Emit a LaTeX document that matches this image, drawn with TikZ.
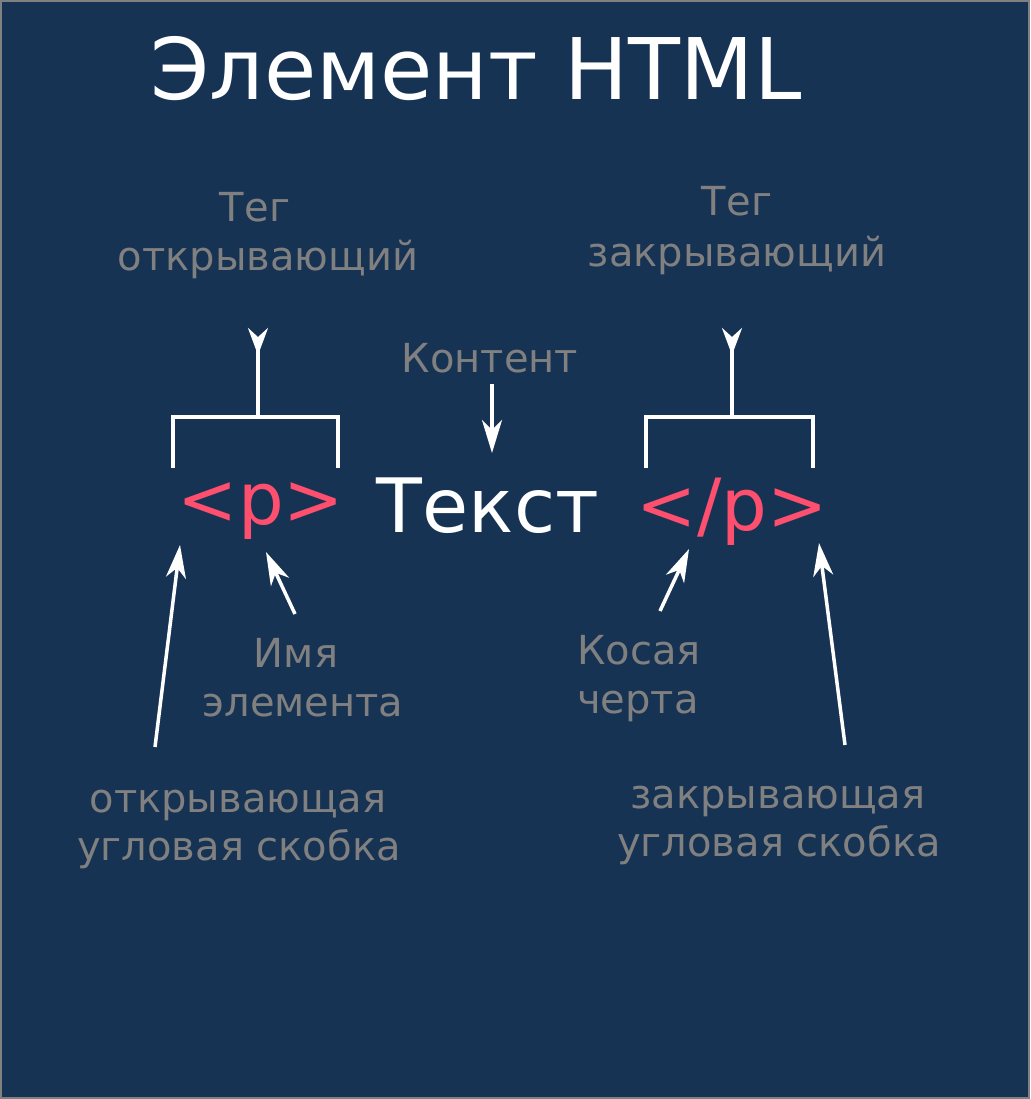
\documentclass[tikz,border=0pt]{standalone}
\usepackage{fontspec}
\setmainfont{DejaVu Sans}
\usetikzlibrary{arrows.meta}
\definecolor{bgblue}{HTML}{173354}
\definecolor{lbl}{HTML}{808080}
\definecolor{tagred}{HTML}{FF4F6E}
\begin{document}
\begin{tikzpicture}[x=1pt,y=-1pt,
  lab/.style={text=lbl,font=\fontsize{40}{48}\selectfont,inner sep=0pt,anchor=base},
  tag/.style={text=tagred,font=\fontsize{72}{86}\selectfont,inner sep=0pt,anchor=base},
  conn/.style={draw=white,line width=3.5pt},
  arr/.style={conn,-{Stealth[length=33pt,width=20pt,inset=10pt]}},
  rarr/.style={conn,-{Stealth[reversed,length=27pt,width=20pt,inset=9pt]}}]
\useasboundingbox (0,0) rectangle (1030,1099);
\fill[bgblue] (0,0) rectangle (1030,1099);
\draw[lbl,line width=2pt] (1,1) rectangle (1029,1098);
% title
\node[text=white,font=\fontsize{85}{100}\selectfont,inner sep=0pt,anchor=base] (title) at (476,100) {Элемент HTML};
% labels
\node[lab] (tego1) at (255,222) {Тег};
\node[lab] (tego2) at (268,270) {открывающий};
\node[lab] (tegz1) at (737,216) {Тег};
\node[lab] (tegz2) at (737,266) {закрывающий};
\node[lab] (kont) at (490,372) {Контент};
\node[lab] (imya1) at (296,667) {Имя};
\node[lab] (imya2) at (303,716) {элемента};
\node[lab,anchor=base west] (kos1) at (577,664) {Косая};
\node[lab,anchor=base west] (kos2) at (577,713) {черта};
\node[lab] (otk1) at (238,812) {открывающая};
\node[lab] (otk2) at (239,860) {угловая скобка};
\node[lab] (zak1) at (778,808) {закрывающая};
\node[lab] (zak2) at (779,856) {угловая скобка};
% tags and content
\node[tag] (ptag) at (261,524) {<p>};
\node[tag] (cptag) at (732,530) {</p>};
\node[text=white,font=\fontsize{75}{90}\selectfont,inner sep=0pt,anchor=base] (txt) at (488,532) {Текст};
% brackets
\coordinate (lb1) at (173,468); \coordinate (lb2) at (173,417);
\coordinate (lb3) at (338,417); \coordinate (lb4) at (338,468);
\coordinate (lbs) at (258,417); \coordinate (lbt) at (258,328);
\draw[conn] (lb1) -- (lb2) -- (lb3) -- (lb4);
\draw[rarr] (lbs) -- (lbt);
\coordinate (rb1) at (646,468); \coordinate (rb2) at (646,417);
\coordinate (rb3) at (813,417); \coordinate (rb4) at (813,468);
\coordinate (rbs) at (732,417); \coordinate (rbt) at (732,328);
\draw[conn] (rb1) -- (rb2) -- (rb3) -- (rb4);
\draw[rarr] (rbs) -- (rbt);
% arrows
\coordinate (ka) at (492,384); \coordinate (kb) at (492,453);
\draw[arr] (ka) -- (kb);
\coordinate (a1s) at (155,747); \coordinate (a1t) at (180,545);
\draw[arr] (a1s) -- (a1t);
\coordinate (a2s) at (295,614); \coordinate (a2t) at (266,552);
\draw[arr] (a2s) -- (a2t);
\coordinate (a3s) at (660,611); \coordinate (a3t) at (689,549);
\draw[arr] (a3s) -- (a3t);
\coordinate (a4s) at (845,745); \coordinate (a4t) at (819,543);
\draw[arr] (a4s) -- (a4t);
\end{tikzpicture}
\end{document}
